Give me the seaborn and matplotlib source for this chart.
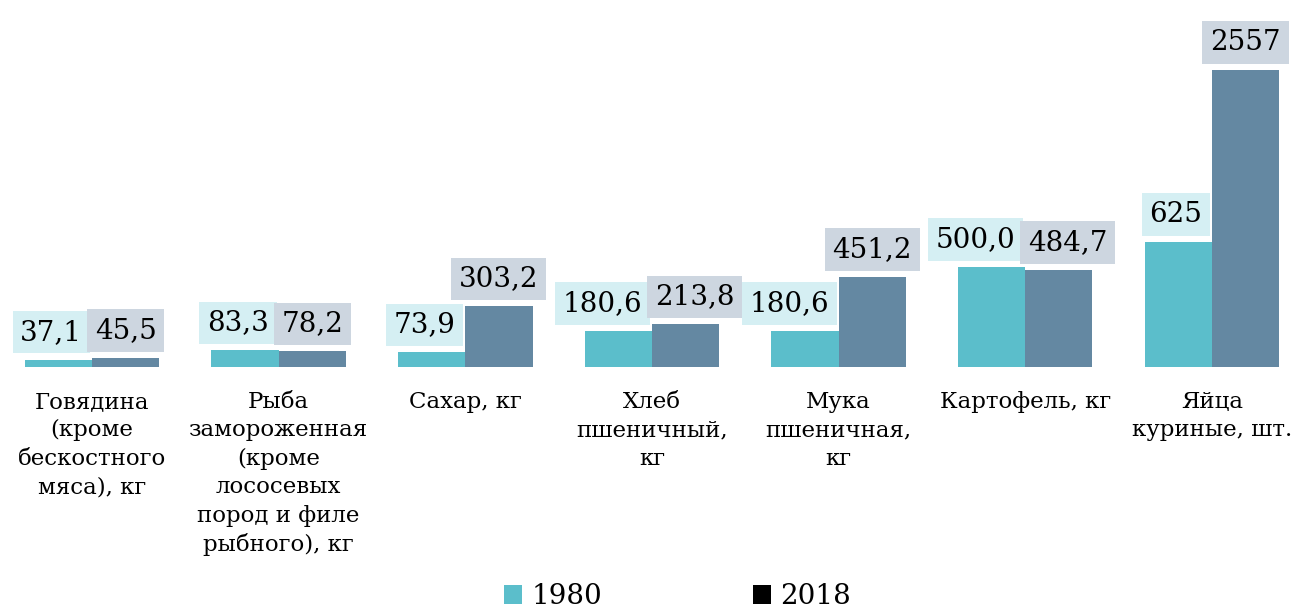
import numpy as np
import pandas as pd
import matplotlib
matplotlib.use("Agg")
import matplotlib.pyplot as plt
from matplotlib.patches import Patch
import seaborn as sns

# данные
categories = [
    "Говядина\n(кроме\nбескостного\nмяса), кг",
    "Рыба\nзамороженная\n(кроме\nлососевых\nпород и филе\nрыбного), кг",
    "Сахар, кг",
    "Хлеб\nпшеничный,\nкг",
    "Мука\nпшеничная,\nкг",
    "Картофель, кг",
    "Яйца\nкуриные, шт.",
]
years = ["1980", "2018"]
values_1980 = [37.1, 83.3, 73.9, 180.6, 180.6, 500.0, 625]
values_2018 = [45.5, 78.2, 303.2, 213.8, 451.2, 484.7, 2557]
labels_1980 = ["37,1", "83,3", "73,9", "180,6", "180,6", "500,0", "625"]
labels_2018 = ["45,5", "78,2", "303,2", "213,8", "451,2", "484,7", "2557"]

c1980 = "#5bbecb"
c2018 = "#6488a2"
box1980 = "#d5eff3"
box2018 = "#cdd6e0"

sns.set_theme(style="white")
plt.rcParams['font.family'] = ['DejaVu Serif']
plt.rcParams['text.color'] = 'black'
plt.rcParams['xtick.color'] = 'black'

df = pd.DataFrame({
    "cat": categories * 2,
    "year": [years[0]] * len(categories) + [years[1]] * len(categories),
    "val": values_1980 + values_2018,
})

fig = plt.figure(figsize=(12.98, 6.10), dpi=100)
ax = fig.add_axes([0, 1 - 367 / 610, 1, 367 / 610])

sns.barplot(data=df, x="cat", y="val", hue="year", palette={"1980": c1980, "2018": c2018},
            width=0.72, gap=0, linewidth=0, saturation=1, ax=ax, legend=False)

# ось сжата выше 625 (как в оригинале, столбец яиц укорочен)
BRK, K = 625.0, 0.445


def fwd(y):
    y = np.asarray(y, dtype=float)
    return np.where(y <= BRK, y, BRK + (y - BRK) * K)


def inv(y):
    y = np.asarray(y, dtype=float)
    return np.where(y <= BRK, y, BRK + (y - BRK) / K)


ax.set_yscale("function", functions=(fwd, inv))
ax.set_ylim(0, float(inv(1835)))
ax.set_xlim(-0.493, 6.461)

for s in ax.spines.values():
    s.set_visible(False)
ax.set_yticks([])
ax.set_xlabel("")
ax.set_ylabel("")
ax.tick_params(axis="x", length=0, pad=17, labelsize=16.5, labelcolor="black")
for t in ax.get_xticklabels():
    t.set_linespacing(1.38)

# подписи значений
px_per_unit = 0.2
bbox_kw = dict(boxstyle="square,pad=0.28", ec="none")
for i in range(len(categories)):
    ax.annotate(labels_1980[i], xy=(i, values_1980[i]), xytext=(-7, 10),
                textcoords="offset points", ha="right", va="bottom", fontsize=20,
                bbox=dict(fc=box1980, **bbox_kw))
    far = (fwd(values_2018[i]) - fwd(values_1980[i])) * px_per_unit > 40
    if far:
        ax.annotate(labels_2018[i], xy=(i + 0.18, values_2018[i]), xytext=(0, 10),
                    textcoords="offset points", ha="center", va="bottom", fontsize=20,
                    bbox=dict(fc=box2018, **bbox_kw))
    else:
        ax.annotate(labels_2018[i], xy=(i, values_2018[i]), xytext=(2, 10),
                    textcoords="offset points", ha="left", va="bottom", fontsize=20,
                    bbox=dict(fc=box2018, **bbox_kw))

handles = [Patch(facecolor=c1980, edgecolor="none"), Patch(facecolor="black", edgecolor="none")]
fig.legend(handles, years, loc="center", bbox_to_anchor=(0.522, 0.022), ncol=2, frameon=False,
           fontsize=20, handlelength=0.65, handleheight=0.65, handletextpad=0.35,
           columnspacing=5.4, borderaxespad=0)

fig.savefig("out.png", dpi=100)
